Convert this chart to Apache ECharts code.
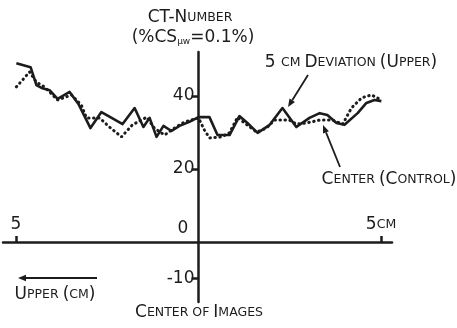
<!DOCTYPE html>
<html>
<head>
<meta charset="utf-8">
<script src="https://cdn.jsdelivr.net/npm/echarts@6/dist/echarts.min.js"></script>
<style>html,body{margin:0;padding:0;background:#fff}#c{width:457px;height:328px}</style>
</head>
<body>
<div id="c"></div>
<script>
// Position across image (cm, negative = upper side) and CT-number
const deviationX = [-4.99,-4.60,-4.44,-4.30,-4.08,-3.86,-3.53,-3.29,-2.96,-2.66,-2.38,-2.08,-1.75,-1.51,-1.34,-1.15,-0.96,-0.74,-0.52,-0.25,0.00,0.30,0.52,0.85,1.12,1.34,1.62,1.95,2.30,2.68,3.04,3.32,3.53,3.78,4.00,4.36,4.60,4.82,5.01];
const deviationY = [49.0,47.9,43.0,42.2,41.6,39.2,41.1,37.8,31.2,35.6,34.0,32.3,36.7,31.5,34.0,28.8,31.8,30.4,31.8,32.9,34.2,34.2,29.3,29.3,34.5,32.6,29.9,32.1,36.7,31.5,34.0,35.3,34.8,32.6,32.1,35.3,38.1,38.9,38.6];
const controlX = [-4.99,-4.82,-4.63,-4.44,-4.22,-3.86,-3.48,-3.21,-3.07,-2.71,-2.44,-2.11,-1.81,-1.42,-1.21,-0.93,-0.66,-0.38,0.00,0.16,0.30,0.63,0.85,1.07,1.26,1.59,1.86,2.08,2.49,2.68,2.96,3.32,3.67,3.95,4.19,4.47,4.74,5.01];
const controlY = [42.5,44.4,46.6,43.8,42.5,38.9,40.3,37.5,34.0,34.0,31.5,28.8,32.1,34.2,31.2,29.3,31.2,32.9,34.0,30.7,28.5,28.8,29.9,34.2,32.6,30.1,31.2,33.4,33.4,32.3,32.6,33.4,33.4,32.3,36.7,39.5,40.3,38.9];
const yTicks = [40, 20, -10];
const xTicks = [-5, 5];

const FONT = "'DejaVu Sans','Liberation Sans',sans-serif";
const INK = '#1c1c1c';
const pairs = (xs, ys) => xs.map((x, i) => [x, ys[i]]);

function arrow(x1, y1, x2, y2) {
  const a = Math.atan2(y2 - y1, x2 - x1), L = 8, W = 3.2;
  const bx = x2 - L * Math.cos(a), by = y2 - L * Math.sin(a);
  const nx = -Math.sin(a) * W, ny = Math.cos(a) * W;
  return [
    {type: 'line', shape: {x1, y1, x2: bx, y2: by}, style: {stroke: INK, lineWidth: 1.8}},
    {type: 'polygon', shape: {points: [[x2, y2], [bx + nx, by + ny], [bx - nx, by - ny]]}, style: {fill: INK}}
  ];
}
const B = 17, S = 12.5;
const rich = {
  b: {fontFamily: FONT, fontSize: B, color: INK},
  s: {fontFamily: FONT, fontSize: S, color: INK},
  sub: {fontFamily: FONT, fontSize: 9, color: INK, padding: [8, 0, 0, 0]}
};
function txt(x, y, text, align) {
  return {type: 'text', x, y, style: {text, rich, align: align || 'center', verticalAlign: 'middle', fill: INK}};
}

// grid: x from -5.356 cm (px 3) to 5.301 cm (px 392); y from -16.44 (px 302) to 52.05 (px 52)
const chart = echarts.init(document.getElementById('c'));
chart.setOption({
  backgroundColor: '#fff',
  animation: false,
  grid: {left: 3, right: 65, top: 52, bottom: 26, containLabel: false, outerBoundsMode: 'none'},
  xAxis: {
    type: 'value', position: 'bottom', offset: -60, min: -5.356, max: 5.301,
    axisLine: {onZero: false, lineStyle: {color: INK, width: 2.5}},
    splitLine: {show: false},
    axisTick: {inside: true, length: 6, customValues: xTicks, lineStyle: {color: INK, width: 2.5}},
    axisLabel: {inside: true, margin: 9, customValues: xTicks,
      formatter: v => v < 0 ? '{b|5}' : '{b|5}{s|CM}', rich}
  },
  yAxis: {
    type: 'value', position: 'left', offset: -195.5, min: -16.44, max: 52.05,
    axisLine: {onZero: false, lineStyle: {color: INK, width: 2.5}},
    splitLine: {show: false},
    axisTick: {length: 7, customValues: yTicks, lineStyle: {color: INK, width: 2.5}},
    axisLabel: {margin: 4, customValues: yTicks, formatter: v => '{b|' + v + '}', rich}
  },
  series: [
    {type: 'line', data: pairs(deviationX, deviationY), symbol: 'none', clip: false,
      lineStyle: {color: INK, width: 2.6, join: 'round'}},
    {type: 'line', data: pairs(controlX, controlY), symbol: 'none', clip: false,
      lineStyle: {color: INK, width: 3, type: [0.5, 4.5], cap: 'round'}}
  ],
  graphic: [
    txt(190, 18, '{b|CT-N}{s|UMBER}'),
    txt(193, 38, '{b|(%CS}{sub|μw}{b|=0.1%)}'),
    txt(351, 63, '{b|5 }{s|CM }{b|D}{s|EVIATION }{b|(U}{s|PPER}{b|)}'),
    txt(389, 180, '{b|C}{s|ENTER }{b|(C}{s|ONTROL}{b|)}'),
    txt(183, 229, '{b|0}'),
    txt(55, 295, '{b|U}{s|PPER }{b|(}{s|CM}{b|)}'),
    txt(199, 313, '{b|C}{s|ENTER OF }{b|I}{s|MAGES}'),
    ...arrow(308, 75, 288, 107),
    ...arrow(340, 167, 323, 125),
    ...arrow(97, 278, 18, 278)
  ]
});
</script>
</body>
</html>
